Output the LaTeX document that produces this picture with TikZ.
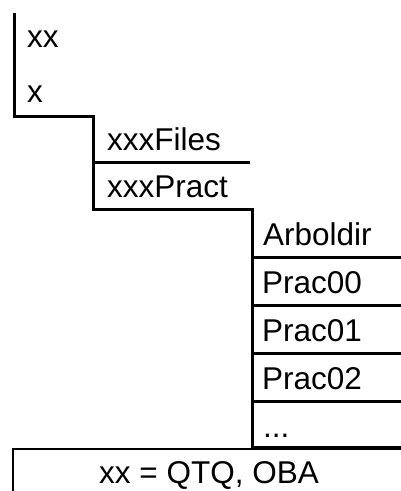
\documentclass[tikz,border=0pt]{standalone}
\usepackage{fontspec}
\setmainfont{Liberation Sans}
\begin{document}
\begin{tikzpicture}[x=1pt,y=-1pt,
  thickline/.style={line width=3pt},
  thinline/.style={line width=1.2pt},
  lbl/.style={anchor=base west,inner sep=0pt,font=\fontsize{31.5}{36}\selectfont}]
\useasboundingbox (0,0) rectangle (401,491);
% stair outline
\draw[thickline] (14,13) -- (14,116) -- (93.5,116) -- (93.5,209) -- (252,209) -- (252,448);
% separators
\draw[thickline] (93.5,162) -- (250,162);
\foreach \yy in {257,305,353,401,447.5}{
  \draw[thickline] (252,\yy) -- (402,\yy);
}
% bottom box
\draw[thinline] (13,492) -- (13,449) -- (402,449);
% labels
\node[lbl] (a1) at (27,47) {xx};
\node[lbl] (a2) at (27,102) {x};
\node[lbl] (b1) at (107,150) {xxxFiles};
\node[lbl] (b2) at (107,197) {xxxPract};
\node[lbl] (c1) at (263,245) {Arboldir};
\node[lbl] (c2) at (262,293) {Prac00};
\node[lbl] (c3) at (262,341) {Prac01};
\node[lbl] (c4) at (262,389) {Prac02};
\node[lbl] (c5) at (263,437) {...};
\node[lbl,anchor=base] (note) at (209,483) {xx = QTQ, OBA};
\end{tikzpicture}
\end{document}
